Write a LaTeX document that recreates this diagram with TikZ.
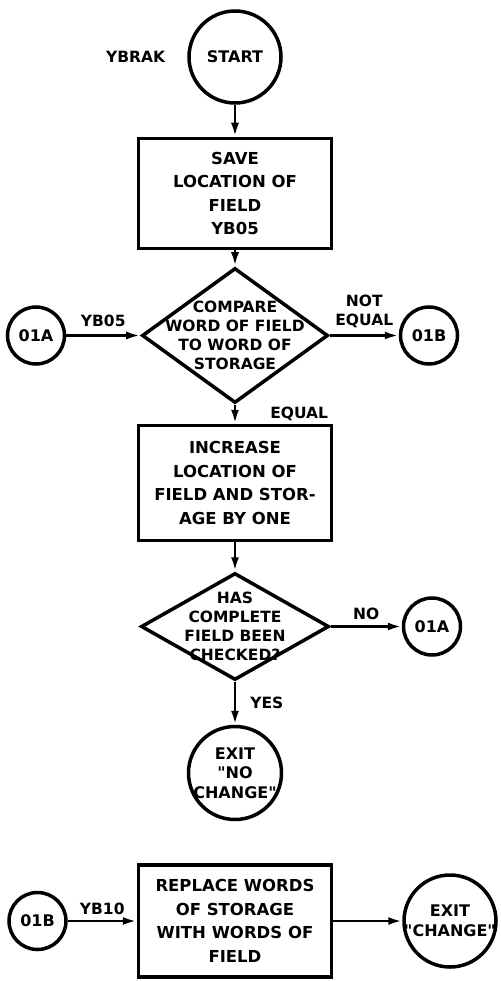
\documentclass[tikz,border=0pt]{standalone}
\usepackage{fontspec}
\setmainfont{DejaVu Sans}
\usepackage{tikz}
\usetikzlibrary{arrows.meta,positioning,shapes.geometric}
\tikzstyle{flow}=[
	-{Latex[length=14pt,width=8pt]},
	line width=2.7pt,
	draw=black
]
\tikzstyle{txt}=[
	align=center,
	font=\fontsize{15.5}{19}\selectfont\bfseries
]
\tikzstyle{procbox}=[
	txt,
	rectangle,
	draw=black,
	line width=3.5pt,
	minimum width=193pt,
	minimum height=110pt,
	font=\fontsize{16.5}{23.5}\selectfont\bfseries
]
\tikzstyle{decide}=[
	txt,
	diamond,
	draw=black,
	line width=3.5pt,
	inner xsep=-45pt,
	inner ysep=-30pt
]
\tikzstyle{term}=[
	txt,
	circle,
	draw=black,
	line width=3.5pt,
	inner sep=-14pt,
	minimum size=92pt,
	font=\fontsize{16}{19.5}\selectfont\bfseries
]
\tikzstyle{conn}=[
	txt,
	circle,
	draw=black,
	line width=3.5pt,
	inner sep=0pt,
	minimum size=57pt,
	font=\fontsize{16}{19}\selectfont\bfseries
]
\tikzstyle{lbl}=[
	txt,
	inner sep=2pt
]
\begin{document}
\begin{tikzpicture}[x=1pt, y=-1pt]
\useasboundingbox (0,0) rectangle (500,981);

\node[term] (start) at (235,57) {START};
\node[procbox, below=32pt of start] (save) {SAVE\\LOCATION OF\\FIELD\\YB05};
\node[decide, below=16pt of save, minimum width=186pt, minimum height=135pt] (cmp) {COMPARE\\WORD OF FIELD\\TO WORD OF\\STORAGE};
\node[procbox, below=19pt of cmp, minimum height=115pt] (incr) {INCREASE\\LOCATION OF\\FIELD AND STOR-\\AGE BY ONE};
\node[decide, below=29pt of incr, minimum width=188pt, minimum height=107pt] (chk) {HAS\\COMPLETE\\FIELD BEEN\\CHECKED?};
\node[term, below=43pt of chk, minimum size=93pt] (nochg) {EXIT\\\textquotedbl NO\\CHANGE\textquotedbl};
\node[procbox, below=42pt of nochg, minimum height=112pt] (repl) {REPLACE WORDS\\OF STORAGE\\WITH WORDS OF\\FIELD};

\node[lbl, left=20pt of start] (ybrak) {YBRAK};
\node[conn, left=74pt of cmp] (oa1) {01A};
\node[conn, right=69pt of cmp] (ob1) {01B};
\node[conn, right=71pt of chk] (oa2) {01A};
\node[conn, left=69pt of repl] (ob2) {01B};
\node[term, right=69pt of repl] (chg) {EXIT\\\textquotedbl CHANGE\textquotedbl};

\draw[flow] (start) to (save);
\draw[flow] (save) to (cmp);
\draw[flow] (oa1) to node[lbl, midway, above=5pt] (yb05) {YB05} (cmp);
\draw[flow] (cmp) to node[lbl, midway, above=4pt] (neq) {NOT\\EQUAL} (ob1);
\draw[flow] (cmp) to node[lbl, midway, right=32pt] (eq) {EQUAL} (incr);
\draw[flow] (incr) to (chk);
\draw[flow] (chk) to node[lbl, midway, above=3pt] (no) {NO} (oa2);
\draw[flow] (chk) to node[lbl, midway, right=12pt] (yes) {YES} (nochg);
\draw[flow] (ob2) to node[lbl, midway, above=3pt] (yb10) {YB10} (repl);
\draw[flow] (repl) to (chg);

\end{tikzpicture}
\end{document}
